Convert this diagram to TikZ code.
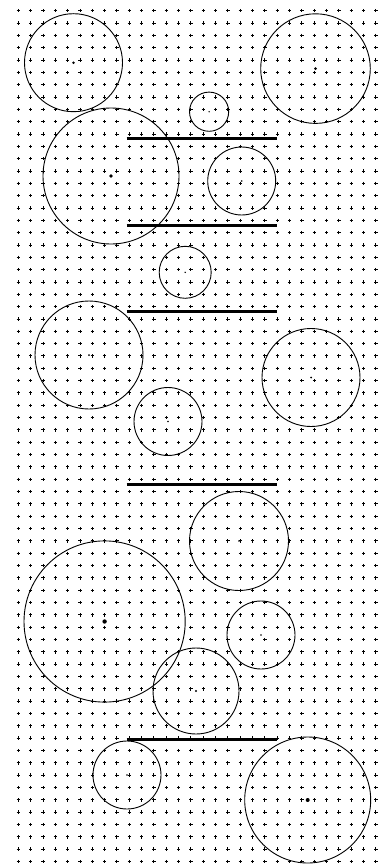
\documentclass[tikz,border=0pt]{standalone}
\begin{document}
\begin{tikzpicture}[x=1pt,y=-1pt,
  plusmark/.style={line width=0.9pt,black},
  circ/.style={draw,line width=0.9pt,black},
  bar/.style={line width=3pt,black},
  ctr/.style={fill=black}]
\useasboundingbox (0,0) rectangle (379,867);
\fill[white] (0,0) rectangle (379,867);
% grid of plus marks
\draw[plusmark] \foreach \i in {0,...,29}{\foreach \j in {0,...,69}{
  ({18.3+12.33*\i-1.7},{10.7+12.33*\j}) -- ++(3.4,0)
  ({18.3+12.33*\i},{10.7+12.33*\j-1.7}) -- ++(0,3.4)}};
% circle centres
\coordinate (c1) at (73.5,62.7);
\coordinate (c2) at (315.5,68.6);
\coordinate (c3) at (209.1,111.7);
\coordinate (c5) at (111,176);
\coordinate (c6) at (241.7,181);
\coordinate (c8) at (185.2,272.3);
\coordinate (c10) at (89,355);
\coordinate (c11) at (311,377.5);
\coordinate (c12) at (168,421.5);
\coordinate (c14) at (239,541);
\coordinate (c15) at (104.6,621.5);
\coordinate (c16) at (261,635);
\coordinate (c17) at (196,691);
\coordinate (c19) at (127,775);
\coordinate (c20) at (307.7,800);
% circles
\draw[circ] (c1) circle (49);
\draw[circ] (c2) circle (54.8);
\draw[circ] (c3) circle (19.6);
\draw[circ] (c5) circle (68);
\draw[circ] (c6) circle (34);
\draw[circ] (c8) circle (26);
\draw[circ] (c10) circle (54);
\draw[circ] (c11) circle (49);
\draw[circ] (c12) circle (34);
\draw[circ] (c14) circle (49.5);
\draw[circ] (c15) circle (80.6);
\draw[circ] (c16) circle (34);
\draw[circ] (c17) circle (43);
\draw[circ] (c19) circle (34);
\draw[circ] (c20) circle (63);
% centre dots
\fill[ctr] (c1) circle (1.4);
\fill[ctr] (c2) circle (1.5);
\fill[ctr] (c3) circle (0.8);
\fill[ctr] (c5) circle (1.8);
\fill[ctr] (c6) circle (0.9);
\fill[ctr] (c8) circle (0.8);
\fill[ctr] (c10) circle (1.0);
\fill[ctr] (c11) circle (1.0);
\fill[ctr] (c12) circle (0.8);
\fill[ctr] (c14) circle (0.9);
\fill[ctr] (c15) circle (2.2);
\fill[ctr] (c16) circle (0.8);
\fill[ctr] (c17) circle (1.1);
\fill[ctr] (c19) circle (0.8);
\fill[ctr] (c20) circle (2.0);
% bars
\coordinate (b1l) at (126.5,138.5); \coordinate (b1r) at (276.8,138.5);
\coordinate (b2l) at (126.5,225.3); \coordinate (b2r) at (276.8,225.3);
\coordinate (b3l) at (126.5,311);   \coordinate (b3r) at (276.8,311);
\coordinate (b4l) at (126.5,484);   \coordinate (b4r) at (276.8,484);
\coordinate (b5l) at (126.5,739);   \coordinate (b5r) at (276.8,739);
\draw[bar] (b1l) -- (b1r);
\draw[bar] (b2l) -- (b2r);
\draw[bar] (b3l) -- (b3r);
\draw[bar] (b4l) -- (b4r);
\draw[bar] (b5l) -- (b5r);
\end{tikzpicture}
\end{document}
